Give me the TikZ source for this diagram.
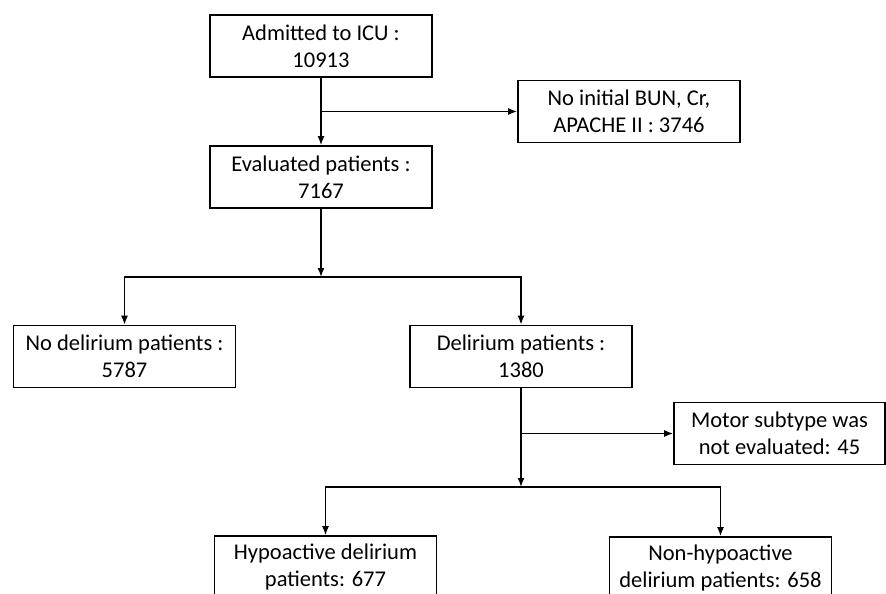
\documentclass[tikz,border=0pt]{standalone}
\usepackage{fontspec}
\setmainfont{Carlito}
\usetikzlibrary{arrows.meta}

\begin{document}
\begin{tikzpicture}[x=1pt, y=-1pt,
        box/.style={rectangle, draw, line width=1.6pt, align=center,
            minimum width=222pt, minimum height=62pt, inner sep=2pt,
            font=\fontsize{22.5}{27}\selectfont},
        link/.style={line width=1.6pt, -{Latex[length=9pt,width=7pt]}}]
            \clip (0,0) rectangle (886,594);
            \node[box] (adm) at (321,46) {Admitted to ICU :\\10913};
            \node[box] (noinit) at (629,111.5) {No initial BUN, Cr,\\APACHE II : 3746};
            \node[box] (eval) at (321,177) {Evaluated patients :\\7167};
            \node[box] (nodel) at (124.5,356.5) {No delirium patients :\\5787};
            \node[box] (del) at (521,356.5) {Delirium patients :\\1380};
            \node[box, minimum width=211pt] (motor) at (779.5,433.5)
                {Motor subtype was\\not evaluated: 45};
            \node[box] (hypo) at (325.5,567) {Hypoactive delirium\\patients: 677};
            \node[box] (nonhypo) at (720.5,568) {Non-hypoactive\\delirium patients: 658};
            \coordinate (j1) at (adm.south |- noinit.west);
            \coordinate (s1) at (321,277);
            \coordinate (j2) at (del.south |- motor.west);
            \coordinate (s2) at (521,487);
            \draw[link] (adm) -- (eval);
            \draw[link] (j1) -- (noinit);
            \draw[link] (eval) -- (s1);
            \draw[link] (s1) -| (nodel);
            \draw[link] (s1) -| (del);
            \draw[link] (del) -- (s2);
            \draw[link] (j2) -- (motor);
            \draw[link] (s2) -| (hypo);
            \draw[link] (s2) -| (nonhypo);
        \end{tikzpicture}
\end{document}
